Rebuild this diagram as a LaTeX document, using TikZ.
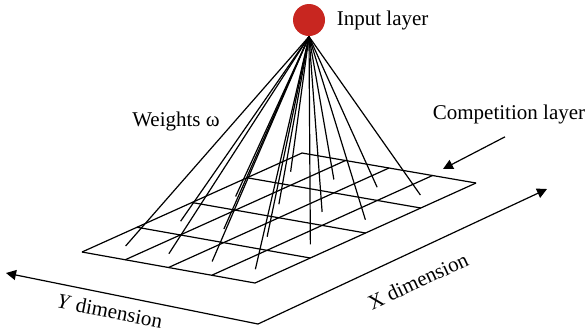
\documentclass[tikz,border=0pt]{standalone}
\usepackage{fontspec}
\setmainfont{Liberation Serif}
\usetikzlibrary{arrows.meta,calc,positioning}
\definecolor{NeuronRed}{RGB}{200,38,32}

\begin{document}
\begin{tikzpicture}[x=0.5pt,y=-0.5pt,>={Triangle[length=5pt,width=5pt]},line width=0.6pt,font=\fontsize{10.5}{12}\selectfont]
\useasboundingbox (0,0) rectangle (588,334);
% competition layer grid
\coordinate (L) at (82,252);
\coordinate (B) at (255,283);
\coordinate (R) at (476,183);
\coordinate (T) at (302,153);
\foreach \i in {0,...,4} {
  \draw ($(L)!\i/4!(B)$) -- ($(T)!\i/4!(R)$);
  \draw ($(L)!\i/4!(T)$) -- ($(B)!\i/4!(R)$);
}
% input neuron and weights
\node[circle,fill=NeuronRed,minimum size=16pt,inner sep=0pt] (inp) at (309,20) {};
\foreach \u in {0,...,3} \foreach \v in {0,...,3} {
  \coordinate (c\u\v) at ({82+173*(\u+0.5)/4+220*(\v+0.4)/4},{252+31*(\u+0.5)/4-99*(\v+0.4)/4});
  \draw (inp.south) -- (c\u\v);
}
\node[right=2pt of inp] (inlbl) {Input layer};
\node (wlbl) at (176,121) {Weights ω};
\node (complbl) at (509,114) {Competition layer};
\coordinate (ctip) at (443,169);
\draw[->] ([xshift=-2pt,yshift=-3pt]complbl.south) -- (ctip);
% dimensions
\coordinate (O) at (258,324);
\coordinate (Yend) at (6,273);
\coordinate (Xend) at (547,189);
\draw[<->] (Yend) -- (O) -- (Xend);
\node[rotate=-11] (ylbl) at (110,311) {\textit{Y} dimension};
\node[rotate=25] (xlbl) at (418,281) {X dimension};
\end{tikzpicture}
\end{document}
